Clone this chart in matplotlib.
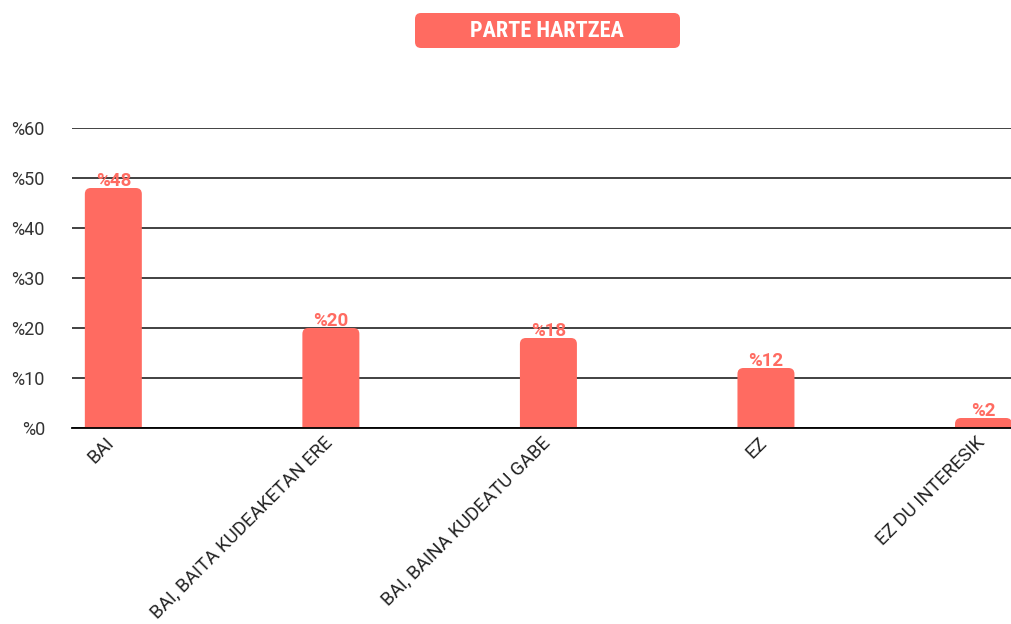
import matplotlib
matplotlib.use("Agg")
import matplotlib.pyplot as plt
from matplotlib.patches import FancyBboxPatch
from matplotlib.transforms import IdentityTransform, ScaledTranslation

categories = ["BAI", "BAI, BAITA KUDEAKETAN ERE", "BAI, BAINA KUDEATU GABE", "EZ", "EZ DU INTERESIK"]
values = [48, 20, 18, 12, 2]
yticks = [0, 10, 20, 30, 40, 50, 60]
title = "PARTE HARTZEA"

coral = "#ff6b61"
plt.rcParams["font.family"] = ["Roboto", "DejaVu Sans"]

W, H = 1012, 624
fig = plt.figure(figsize=(W / 100, H / 100), dpi=100)
ax = fig.add_axes([72 / W, (H - 428) / H, (1012 - 72) / W, 300 / H])

ax.set_xlim(-0.19, 4.131)
ax.set_ylim(0, 60)
ax.set_axisbelow(True)

# bar geometry from the library, then swapped for rounded-top patches
bars = ax.bar(range(len(values)), values, width=0.262)
fig.canvas.draw()
px_x = ax.transData.transform((1, 0))[0] - ax.transData.transform((0, 0))[0]
px_y = ax.transData.transform((0, 1))[1] - ax.transData.transform((0, 0))[1]
r_px = 6
rx = r_px / px_x
aspect = (r_px / px_y) / rx
for b, v in zip(bars, values):
    x0, w = b.get_x(), b.get_width()
    b.remove()
    y0 = -r_px / px_y
    p = FancyBboxPatch((x0, y0), w, v - y0,
                       boxstyle=f"round,pad=0,rounding_size={rx}",
                       mutation_aspect=aspect, fc=coral, ec="none", zorder=2)
    ax.add_patch(p)
    ax.annotate(f"%{v}", (x0 + w / 2, v), xytext=(0, -1.5), textcoords="offset points",
                ha="center", va="bottom", color=coral, fontsize=13.5, fontweight="bold", zorder=3)

ax.set_yticks(yticks)
ax.set_yticklabels([f"%{t}" for t in yticks], fontsize=13, color="#333333")
ax.set_xticks(range(len(categories)))
ax.set_xticklabels(categories, rotation=45, ha="right", va="top", rotation_mode="anchor",
                   fontsize=13.5, color="#222222")
ax.tick_params(axis="both", length=0)
ax.tick_params(axis="x", pad=4)
ax.tick_params(axis="y", pad=19.5)
# nudge the slanted labels a little to the left
shift = ScaledTranslation(-8 / 100, 0, fig.dpi_scale_trans)
for lbl in ax.get_xticklabels():
    lbl.set_transform(lbl.get_transform() + shift)

ax.grid(axis="y", color="#333333", linewidth=1.3)
for s in ["top", "right", "left"]:
    ax.spines[s].set_visible(False)
ax.spines["bottom"].set_color("black")
ax.spines["bottom"].set_linewidth(1.3)
ax.spines["bottom"].set_zorder(4)

# title pill
box = FancyBboxPatch((415, H - 48), 265, 35, boxstyle="round,pad=0,rounding_size=6",
                     fc=coral, ec="none", transform=IdentityTransform())
fig.patches.append(box)
fig.text(547 / W, (H - 31) / H, title, ha="center", va="center", color="white",
         fontsize=16, fontweight="bold", fontstretch="condensed",
         family=["Roboto Condensed", "Roboto", "DejaVu Sans"])

fig.savefig("out.png", dpi=100)
